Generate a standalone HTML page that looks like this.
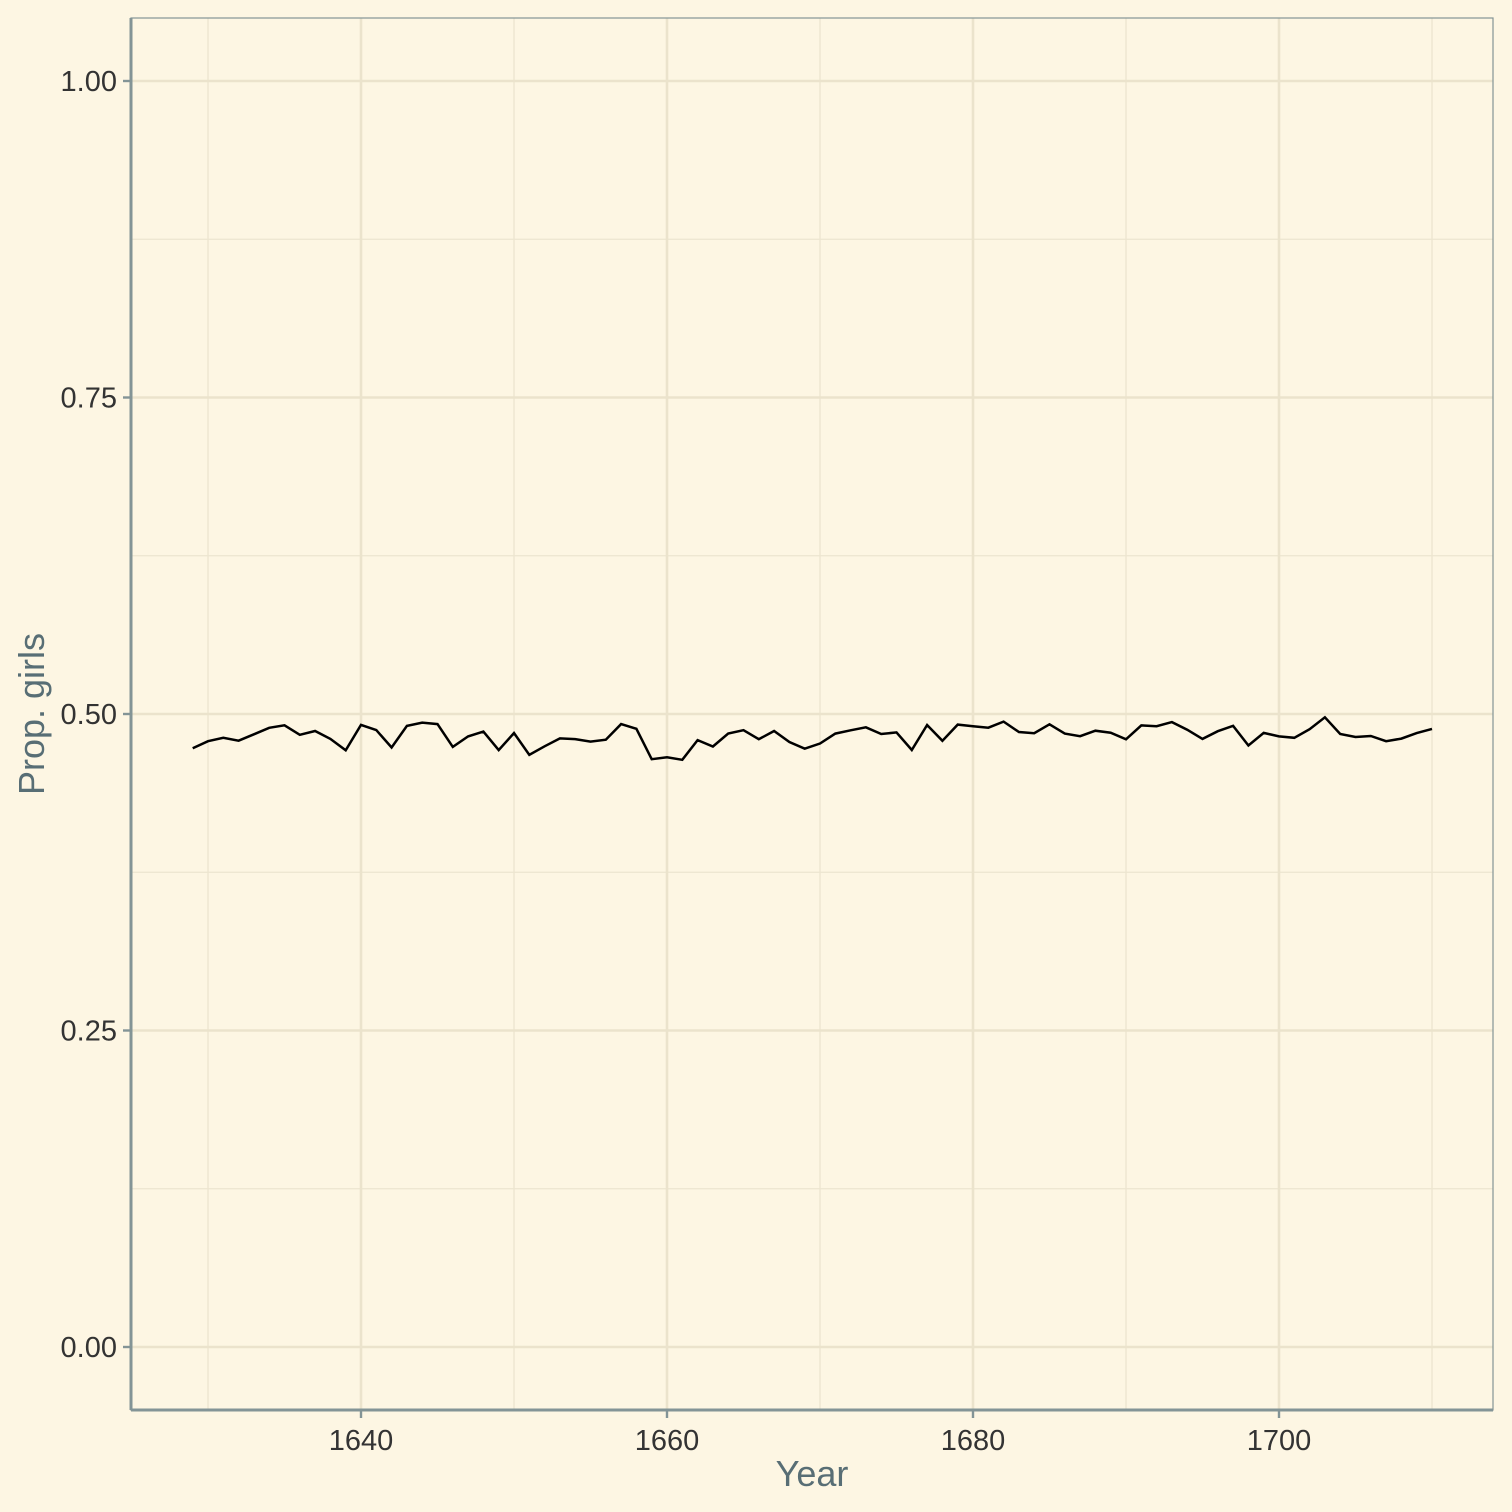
<!DOCTYPE html>
<html><head><meta charset="utf-8"><style>
body{margin:0;background:#fdf6e3;}
svg{display:block;font-family:"Liberation Sans",sans-serif;}
</style></head><body>
<svg id="chart" width="1512" height="1512">
<rect x="0" y="0" width="1512" height="1512" fill="#fdf6e3"/>
<g id="grid"></g>
<g id="axes"></g>
<path id="line" fill="none" stroke="#000" stroke-width="2.5"/>
<text x="812" y="1486" font-size="36" fill="#586e75" text-anchor="middle">Year</text>
<text transform="translate(44,714) rotate(-90)" font-size="36" fill="#586e75" text-anchor="middle">Prop. girls</text>
</svg>
<script>
const years=[];for(let y=1629;y<=1710;y++)years.push(y);
const propGirls=[0.4730,0.4785,0.4812,0.4789,0.4840,0.4891,0.4911,0.4836,0.4866,0.4803,0.4713,0.4914,0.4873,0.4735,0.4906,0.4932,0.4920,0.4740,0.4823,0.4861,0.4715,0.4850,0.4678,0.4745,0.4807,0.4802,0.4782,0.4797,0.4920,0.4883,0.4643,0.4658,0.4638,0.4794,0.4743,0.4846,0.4872,0.4801,0.4866,0.4779,0.4726,0.4767,0.4845,0.4871,0.4895,0.4842,0.4855,0.4716,0.4913,0.4788,0.4916,0.4903,0.4892,0.4940,0.4858,0.4848,0.4919,0.4845,0.4825,0.4868,0.4852,0.4800,0.4910,0.4904,0.4936,0.4876,0.4803,0.4864,0.4907,0.4751,0.4851,0.4823,0.4812,0.4880,0.4974,0.4842,0.4818,0.4826,0.4785,0.4806,0.4849,0.4882];
const xTicks=[1640,1660,1680,1700];
const xMinor=[1630,1650,1670,1690,1710];
const yTicks=[0,0.25,0.5,0.75,1];
const yLabels=["0.00","0.25","0.50","0.75","1.00"];
const yMinor=[0.125,0.375,0.625,0.875];
const NS="http://www.w3.org/2000/svg";
const sx=v=>361+(v-1640)*15.3;
const sy=v=>1347-v*1266;
const L=131,R=1493,T=18,B=1410;
const grid=document.getElementById('grid'),axes=document.getElementById('axes');
function mk(tag,attrs,parent){const e=document.createElementNS(NS,tag);for(const k in attrs)e.setAttribute(k,attrs[k]);parent.appendChild(e);return e;}
xMinor.forEach(v=>{const e=mk('line',{x1:sx(v),x2:sx(v),y1:T,y2:B,stroke:'#ece5cf','stroke-width':1.3},grid);

});
yMinor.forEach(v=>{const e=mk('line',{x1:L,x2:R,y1:sy(v),y2:sy(v),stroke:'#ece5cf','stroke-width':1.3},grid);

});
xTicks.forEach(v=>{const e=mk('line',{x1:sx(v),x2:sx(v),y1:T,y2:B,stroke:'#ebe3cc','stroke-width':2.6},grid);


const t=mk('line',{x1:sx(v),x2:sx(v),y1:B,y2:B+8,stroke:'#839496','stroke-width':2.4},axes);


const l=mk('text',{x:sx(v),y:1450,'font-size':29,fill:'#333','text-anchor':'middle'},axes);l.textContent=v;

});
yTicks.forEach((v,i)=>{const e=mk('line',{x1:L,x2:R,y1:sy(v),y2:sy(v),stroke:'#ebe3cc','stroke-width':2.6},grid);


const t=mk('line',{x1:L-8,x2:L,y1:sy(v),y2:sy(v),stroke:'#839496','stroke-width':2.4},axes);


const l=mk('text',{x:L-14,y:sy(v)+10,'font-size':29,fill:'#333','text-anchor':'end'},axes);l.textContent=yLabels[i];

});
const border=mk('rect',{x:L,y:T,width:R-L,height:B-T,fill:'none',stroke:'#839496','stroke-width':1.2},axes);


const xa=mk('line',{x1:L,x2:R,y1:B,y2:B,stroke:'#839496','stroke-width':3},axes);


const ya=mk('line',{x1:L,x2:L,y1:T,y2:B,stroke:'#839496','stroke-width':3},axes);


document.getElementById('line').setAttribute('d',years.map((y,i)=>(i?'L':'M')+sx(y).toFixed(1)+','+sy(propGirls[i]).toFixed(1)).join(''));
</script>
</body></html>
